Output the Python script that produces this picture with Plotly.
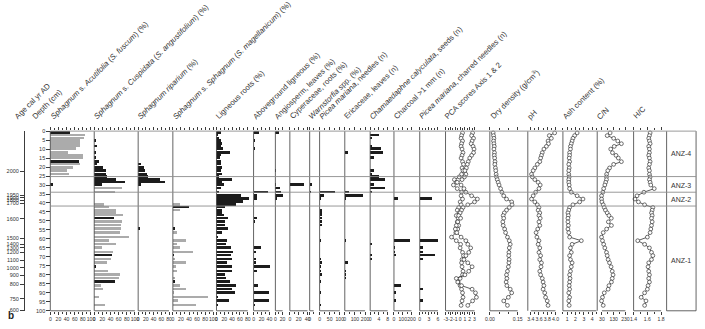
import plotly.graph_objects as go

W, H = 705, 329

# ---------------- data ----------------
DEPTHS = [1, 2.5, 4, 5.5, 7, 8.5, 10, 12, 13.5, 15,
          17, 18.5, 20.5, 22, 24, 25.5, 27, 28.5, 30, 32,
          34, 36, 37.8, 39.4, 41, 42.5, 44, 45.5, 47, 48.5,
          50.5, 52.5, 54.5, 56.5, 59, 61, 63, 65, 67.5, 69.3,
          71.5, 73.3, 75.5, 78, 80, 82, 84, 86, 88, 90,
          92.5, 94.5, 97]

ACUT_DARK = [50, 0, 0, 0, 0, 0, 0, 0, 0, 0,
             72, 0, 0, 0, 0, 0, 0, 0, 8, 0,
             0, 0, 0, 0, 0, 0, 0, 0, 0, 0,
             0, 0, 0, 0, 0, 0, 0, 0, 0, 0,
             0, 0, 0, 0, 0, 0, 0, 0, 0, 0,
             0, 0, 0]
ACUT_LIGHT = [0, 85, 83, 73, 73, 73, 64, 45, 80, 80,
              0, 73, 57, 42, 47, 0, 0, 0, 0, 0,
              0, 0, 0, 0, 0, 0, 0, 0, 0, 0,
              0, 0, 0, 0, 0, 0, 0, 0, 0, 0,
              0, 0, 0, 0, 0, 0, 0, 0, 0, 0,
              0, 0, 0]
CUSP_DARK = [0, 0, 0, 4, 0, 8, 0, 4, 0, 4,
             12, 8, 23, 29, 29, 33, 53, 77, 20, 0,
             0, 0, 0, 0, 0, 0, 0, 0, 0, 49,
             0, 0, 0, 0, 0, 0, 0, 0, 0, 45,
             0, 0, 6, 0, 0, 0, 51, 0, 0, 0,
             0, 0, 0]
CUSP_LIGHT = [0, 0, 0, 0, 0, 0, 0, 0, 0, 0,
              0, 0, 0, 0, 0, 0, 0, 0, 0, 69,
              51, 0, 0, 0, 24, 37, 54, 54, 71, 0,
              69, 66, 66, 65, 85, 36, 54, 20, 47, 0,
              41, 31, 0, 35, 65, 61, 0, 16, 22, 0,
              12, 0, 28]
RIPA_DARK = [0, 0, 0, 0, 0, 0, 0, 0, 0, 0,
             0, 8, 15, 19, 23, 27, 56, 70, 9, 0,
             0, 0, 0, 0, 0, 0, 0, 0, 0, 0,
             0, 0, 6, 0, 0, 0, 0, 0, 0, 0,
             0, 0, 0, 0, 0, 0, 0, 0, 0, 0,
             0, 0, 0]
SPHAG_DARK = [0, 0, 0, 0, 0, 0, 0, 0, 0, 0,
              0, 0, 0, 0, 0, 0, 0, 0, 0, 0,
              0, 0, 0, 0, 0, 39, 0, 0, 0, 0,
              0, 0, 3, 0, 0, 0, 0, 0, 0, 2,
              0, 0, 0, 0, 0, 0, 6, 0, 0, 0,
              0, 0, 0]
SPHAG_LIGHT = [0, 0, 0, 0, 0, 0, 0, 0, 0, 0,
               0, 0, 0, 0, 0, 0, 0, 0, 0, 0,
               0, 0, 0, 0, 18, 0, 18, 0, 0, 0,
               0, 0, 0, 10, 0, 31, 10, 17, 50, 0,
               3, 31, 8, 10, 0, 3, 0, 18, 33, 2,
               87, 12, 58]
LIG_ROOTS = [12, 5, 7, 12, 16, 12, 18, 37, 12, 9,
             12, 12, 15, 12, 15, 8, 40, 16, 21, 12,
             7, 65, 85, 70, 52, 24, 16, 16, 21, 31,
             24, 24, 31, 16, 5, 27, 25, 39, 44, 39,
             42, 27, 40, 40, 24, 25, 36, 51, 40, 49,
             5, 33, 3]
ABOVE_LIG = [13, 0, 0, 2, 0, 0, 2, 0, 0, 0,
             0, 0, 0, 0, 0, 0, 0, 0, 0, 0,
             36, 7, 7, 0, 0, 0, 0, 0, 0, 8,
             2, 0, 0, 0, 0, 0, 0, 18, 3, 0,
             5, 5, 40, 8, 0, 0, 0, 11, 0, 37,
             0, 37, 2]
ANGIO = [11, 0, 0, 0, 0, 0, 0, 0, 0, 0,
         0, 0, 0, 2, 0, 0, 0, 0, 2, 14,
         16, 23, 5, 0, 0, 0, 0, 0, 0, 0,
         0, 0, 0, 0, 0, 0, 0, 0, 0, 0,
         0, 0, 0, 0, 0, 0, 0, 0, 0, 0,
         0, 0, 0]
CYPER = [0, 0, 0, 0, 0, 0, 0, 0, 0, 0,
         0, 0, 0, 0, 0, 0, 0, 0, 32, 0,
         0, 0, 0, 0, 0, 0, 0, 0, 0, 0,
         0, 0, 0, 0, 0, 0, 0, 0, 0, 0,
         0, 0, 0, 0, 0, 0, 0, 0, 0, 0,
         0, 0, 0]
WARN = [0, 0, 0, 0, 0, 0, 0, 0, 0, 0,
        0, 0, 0, 0, 0, 0, 0, 0, 4, 0,
        2, 0, 0, 0, 0, 0, 0, 0, 0, 0,
        0, 0, 0, 0, 0, 0, 0, 0, 0, 0,
        0, 0, 0, 0, 0, 0, 0, 0, 0, 0,
        0, 0, 0]
PICEA_N = [0, 0, 0, 0, 0, 0, 0, 0, 0, 0,
           0, 0, 0, 0, 0, 0, 0, 0, 0, 0,
           75, 21, 3, 0, 0, 0, 10, 8, 10, 8,
           12, 12, 0, 0, 0, 3, 0, 0, 0, 0,
           4, 6, 4, 4, 5, 0, 3, 0, 0, 4,
           0, 0, 3]
ERIC = [0, 0, 0, 0, 0, 0, 0, 27, 0, 0,
        0, 0, 0, 0, 0, 0, 0, 0, 0, 0,
        40, 177, 5, 0, 0, 0, 0, 0, 0, 0,
        0, 0, 0, 0, 0, 3, 0, 0, 0, 0,
        0, 27, 0, 5, 5, 5, 0, 0, 0, 0,
        0, 0, 0]
CHAM = [0, 4, 1, 0, 0, 1, 5, 6, 0, 2,
        0, 0, 0, 2, 1, 4, 7, 0, 2, 7,
        1, 0, 0, 0, 0, 0, 0, 0, 0, 0,
        0, 0, 0, 0, 0, 0, 1, 0, 0, 1,
        1, 0, 0, 0, 0, 0, 0, 0, 0, 0,
        0, 0, 0]
CHARCOAL = [0, 0, 0, 0, 0, 0, 0, 0, 0, 0,
            0, 0, 0, 0, 0, 0, 0, 0, 0, 0,
            0, 0, 40, 0, 0, 0, 0, 0, 0, 0,
            0, 0, 0, 0, 0, 185, 0, 8, 8, 25,
            0, 0, 0, 0, 0, 0, 0, 85, 0, 25,
            0, 25, 0]
PICEA_CH = [0, 0, 0, 0, 0, 0, 0, 0, 0, 0,
            0, 0, 0, 0, 0, 0, 0, 0, 0, 0,
            0, 0, 4, 0, 0, 0, 0, 0, 0, 0,
            0, 0, 0, 0, 0, 6, 0, 1, 1, 5,
            1, 0, 0, 0, 0, 0, 0, 0, 1, 0,
            0, 1, 0]

PCA1 = [0.5, 0.3, 0.2, 0.5, 0.3, 0.2, 0.4, 0.6, 0.4, 0.2,
        0.5, 0.7, 0.4, 0.6, 0.3, -0.2, -1.2, -0.8, -1.4, -0.6,
        0.3, 0.2, 0.5, 0.0, 0.2, -0.3, -0.6, -0.2, -0.8, -0.4,
        -0.6, -0.3, -0.5, -0.9, -1.8, -0.8, 0.1, 0.0, 0.5, 0.7,
        0.4, 0.3, 0.4, 0.6, 0.5, 0.0, -0.4, 0.0, 0.3, 0.5,
        0.6, 0.4, 0.2]
PCA2 = [2.6, 2.4, 2.8, 2.5, 2.3, 2.7, 2.9, 2.8, 2.4, 2.0,
        1.7, 1.5, 1.3, 1.0, 1.2, 0.9, 0.4, -0.6, 0.2, 0.8,
        1.2, 2.4, 3.6, 3.0, 1.6, 0.6, 0.3, 0.0, -0.3, 0.1,
        -0.5, -0.8, -1.0, -0.7, 0.2, 1.2, 1.6, 2.2, 1.8, 1.2,
        0.8, 1.6, 2.5, 1.8, 1.0, -0.8, -0.5, 0.3, 2.5, 3.2,
        3.4, 2.6, 1.6]
DRY_DENSITY = [0.018, 0.02, 0.022, 0.02, 0.022, 0.024, 0.022, 0.025, 0.024, 0.026,
               0.028, 0.027, 0.03, 0.032, 0.034, 0.036, 0.04, 0.045, 0.05, 0.058,
               0.065, 0.075, 0.09, 0.118, 0.12, 0.105, 0.09, 0.078, 0.072, 0.075,
               0.07, 0.072, 0.08, 0.085, 0.095, 0.105, 0.11, 0.105, 0.103, 0.102,
               0.104, 0.103, 0.1, 0.095, 0.09, 0.092, 0.088, 0.092, 0.11, 0.118,
               0.1, 0.075, 0.095]
PH = [3.98, 3.85, 3.9, 3.82, 3.83, 3.78, 3.72, 3.68, 3.66, 3.64,
      3.62, 3.56, 3.5, 3.46, 3.42, 3.44, 3.5, 3.58, 3.63, 3.6,
      3.52, 3.46, 3.42, 3.5, 3.56, 3.6, 3.58, 3.62, 3.6, 3.63,
      3.6, 3.62, 3.57, 3.53, 3.55, 3.6, 3.58, 3.62, 3.6, 3.64,
      3.62, 3.66, 3.65, 3.62, 3.64, 3.68, 3.7, 3.72, 3.7, 3.74,
      3.76, 3.8, 3.82]
ASH = [2.2, 1.9, 1.7, 1.6, 1.5, 1.4, 1.4, 1.3, 1.3, 1.25,
       1.3, 1.2, 1.25, 1.2, 1.2, 1.25, 1.2, 1.2, 1.25, 1.3,
       1.5, 2.2, 2.9, 2.5, 1.7, 1.3, 1.2, 1.1, 1.15, 1.1,
       1.1, 1.15, 1.1, 1.2, 1.3, 2.7, 1.6, 1.4, 1.5, 1.3,
       1.4, 1.6, 1.5, 1.4, 1.3, 1.35, 1.3, 1.25, 1.3, 1.2,
       1.3, 1.2, 1.25]
CN = [100, 75, 130, 165, 196, 135, 105, 120, 150, 170,
      196, 130, 95, 80, 70, 69, 69, 62, 55, 45,
      38, 27, 27, 30, 41, 50, 60, 75, 90, 110,
      85, 111, 70, 41, 27, 35, 45, 55, 69, 75,
      83, 95, 108, 118, 125, 118, 111, 90, 83, 50,
      35, 27, 41]
HC = [1.64, 1.63, 1.62, 1.63, 1.64, 1.62, 1.63, 1.63, 1.62, 1.63,
      1.64, 1.63, 1.62, 1.63, 1.63, 1.64, 1.63, 1.64, 1.65, 1.7,
      1.55, 1.45, 1.42, 1.47, 1.56, 1.68, 1.67, 1.66, 1.67, 1.66,
      1.67, 1.66, 1.65, 1.64, 1.6, 1.46, 1.56, 1.63, 1.66, 1.68,
      1.66, 1.62, 1.61, 1.62, 1.63, 1.62, 1.63, 1.61, 1.6, 1.56,
      1.51, 1.58, 1.56]

AGE_LABELS = ["2000", "1950", "1900", "1800", "1700", "1600", "1500", "1400",
              "1300", "1200", "1100", "1000", "900", "800", "750", "600"]
AGE_DEPTHS = [22.2, 35.8, 37.2, 38.6, 40.3, 48.7, 59.6, 63.1,
              64.9, 67.3, 71.9, 76.1, 80.1, 85.2, 93.3, 99.8]

ZONE_NAMES = ["ANZ-4", "ANZ-3", "ANZ-2", "ANZ-1"]
ZONE_LABEL_DEPTHS = [12.5, 30.2, 38.0, 72.0]
ZONE_BOUNDS = [25.3, 34.0, 41.7]

# ---------------- layout helpers ----------------
FONT = "Liberation Sans, Arial, sans-serif"
DARK = "#1c1c1c"
LIGHT = "#ababab"
LINE = "#3c3c3c"
Y_TOP, Y_BOT = 130.5, 313.5
EDGES = [45.7, 90, 134.3, 169.3, 213.3, 250.7, 272.7, 287.3, 307.3, 317.3,
         342.7, 368.3, 392.3, 418.3, 444.3, 489, 527.3, 562.7, 597.3, 634, 667.3]
BOX_RIGHT = 697
TITLE_SIZE = 7.7
TICK_SIZE = 5.1


def px(x):
    return x / W


def py(y):
    return 1 - y / H


I = "<i>"
E = "</i>"
panels = [
    dict(title=f"{I}Sphagnum{E} s. {I}Acutifolia{E} ({I}S. fuscum{E}) (%)", bars=[(ACUT_DARK, DARK), (ACUT_LIGHT, LIGHT)],
         rng=[0, 108], major=[0, 20, 40, 60, 80, 100], minor=[10, 30, 50, 70, 90]),
    dict(title=f"{I}Sphagnum{E} s. {I}Cuspidata{E} ({I}S. angustifolium{E}) (%)", bars=[(CUSP_DARK, DARK), (CUSP_LIGHT, LIGHT)],
         rng=[0, 108], major=[0, 20, 40, 60, 80, 100], minor=[10, 30, 50, 70, 90]),
    dict(title=f"{I}Sphagnum riparium{E} (%)", bars=[(RIPA_DARK, DARK)],
         rng=[0, 90], major=[0, 20, 40, 60, 80], minor=[10, 30, 50, 70]),
    dict(title=f"{I}Sphagnum{E} s. {I}Sphagnum{E} ({I}S. magellanicum{E}) (%)", bars=[(SPHAG_DARK, DARK), (SPHAG_LIGHT, LIGHT)],
         rng=[0, 108], major=[0, 20, 40, 60, 80, 100], minor=[10, 30, 50, 70, 90]),
    dict(title="Ligneous roots (%)", bars=[(LIG_ROOTS, DARK)],
         rng=[0, 95], major=[0, 20, 40, 60, 80], minor=[10, 30, 50, 70]),
    dict(title="Aboveground ligneous (%)", bars=[(ABOVE_LIG, DARK)],
         rng=[0, 55], major=[0, 20, 40], minor=[10, 30]),
    dict(title="Angiosperm, leaves (%)", bars=[(ANGIO, DARK)],
         rng=[0, 40], major=[0, 20], minor=[10]),
    dict(title="Cyperaceae, roots (%)", bars=[(CYPER, DARK)],
         rng=[0, 45], major=[0, 20, 40], minor=[10, 30]),
    dict(title=f"{I}Warnstorfia{E} spp. (%)", bars=[(WARN, DARK)],
         rng=[0, 25], major=[0], minor=[10]),
    dict(title=f"{I}Picea mariana{E}, needles (n)", bars=[(PICEA_N, DARK)],
         rng=[0, 125], major=[0, 50, 100], minor=[25, 75]),
    dict(title="Ericaceae, leaves (n)", bars=[(ERIC, DARK)],
         rng=[0, 250], major=[0, 100, 200], minor=[50, 150]),
    dict(title=f"{I}Chamaedaphne calyculata{E}, seeds (n)", bars=[(CHAM, DARK)],
         rng=[0, 10.9], major=[0, 4, 8], minor=[2, 6]),
    dict(title="Charcoal >1 mm (n)", bars=[(CHARCOAL, DARK)],
         rng=[0, 294], major=[0, 100, 200], minor=[50, 150]),
    dict(title=f"{I}Picea mariana{E}, charred needles (n)", bars=[(PICEA_CH, DARK)],
         rng=[0, 8.5], major=[0, 3, 6], minor=[1, 2, 4, 5]),
    dict(title="PCA scores Axis 1 & 2", curves=[PCA1, PCA2],
         rng=[-3.05, 6.2], major=[-3, -2, -1, 0, 1, 2, 3],
         minor=[-2.5, -1.5, -0.5, 0.5, 1.5, 2.5]),
    dict(title="Dry density (g/cm<sup>3</sup>)", curves=[DRY_DENSITY],
         rng=[0, 0.205], major=[0, 0.15], labels=["0.00", "0.15"], minor=[0.05, 0.10]),
    dict(title="pH", curves=[PH],
         rng=[3.33, 4.18], major=[3.4, 3.6, 3.8, 4.0], labels=["3.4", "3.6", "3.8", "4.0"],
         minor=[3.5, 3.7, 3.9]),
    dict(title="Ash content (%)", curves=[ASH],
         rng=[0.5, 4.6], major=[1, 2, 3, 4], minor=[0.5, 1.5, 2.5, 3.5, 4.5]),
    dict(title="C/N", curves=[CN],
         rng=[-10, 300], major=[30, 130, 230], minor=[80, 180]),
    dict(title="H/C", curves=[HC],
         rng=[1.4, 1.88], major=[1.4, 1.6, 1.8], labels=["1.4", "1.6", "1.8"], minor=[1.5, 1.7]),
]

fig = go.Figure()
layout = dict(
    width=W, height=H, autosize=False,
    margin=dict(l=0, r=0, t=0, b=0),
    paper_bgcolor="white", plot_bgcolor="rgba(0,0,0,0)",
    font=dict(family=FONT, size=6, color="#333"),
    showlegend=False, barmode="overlay", bargap=0,
)
shapes = []
annotations = []
ydom = [py(Y_BOT), py(Y_TOP)]

for k, p in enumerate(panels):
    n = k + 1
    xa = "x" if n == 1 else f"x{n}"
    key = "xaxis" if n == 1 else f"xaxis{n}"
    for vals, col in p.get("bars", []):
        fig.add_trace(go.Bar(x=vals, y=DEPTHS, orientation="h", width=1.1,
                             marker=dict(color=col, line=dict(width=0)),
                             xaxis=xa, yaxis="y", hoverinfo="skip"))
    for vals in p.get("curves", []):
        fig.add_trace(go.Scatter(x=vals, y=DEPTHS, mode="lines+markers",
                                 line=dict(color="#333", width=0.8),
                                 marker=dict(symbol="circle", size=3.8, color="white",
                                             line=dict(color="#333", width=0.7)),
                                 cliponaxis=False, xaxis=xa, yaxis="y", hoverinfo="skip"))
    labels = p.get("labels", [str(v) for v in p["major"]])
    layout[key] = dict(
        domain=[px(EDGES[k]), px(EDGES[k + 1])], anchor="y", range=p["rng"],
        autorange=False, showgrid=False, zeroline=False, showline=False,
        tickmode="array", tickvals=p["major"], ticktext=labels, tickangle=0,
        ticks="outside", ticklen=3.5, tickwidth=0.8, tickcolor=LINE, mirror="ticks",
        tickfont=dict(size=TICK_SIZE, color="#333", family=FONT),
        minor=dict(tickmode="array", tickvals=p["minor"], ticks="outside",
                   ticklen=2, tickwidth=0.8, tickcolor=LINE),
    )
    ticks_all = sorted(p["major"] + p["minor"])
    shapes.append(dict(type="line", xref=xa, yref="paper", x0=ticks_all[0], x1=ticks_all[-1],
                       y0=ydom[0], y1=ydom[0], line=dict(color=LINE, width=0.8)))
    annotations.append(dict(text=p["title"], xref="paper", yref="paper",
                            x=px(EDGES[k] - 5), y=py(123), xanchor="left", yanchor="bottom",
                            textangle=-45, showarrow=False,
                            font=dict(size=TITLE_SIZE, color="#333", family=FONT)))

for t, xs in [("Age cal yr AD", 10), ("Depth (cm)", 28)]:
    annotations.append(dict(text=t, xref="paper", yref="paper", x=px(xs - 5.5), y=py(123),
                            xanchor="left", yanchor="bottom", textangle=-45, showarrow=False,
                            font=dict(size=TITLE_SIZE, color="#333", family=FONT)))

layout["yaxis"] = dict(domain=ydom, range=[100, 0], autorange=False, anchor="free",
                       position=px(EDGES[0]), showgrid=False, zeroline=False, showline=False,
                       tickmode="array", tickvals=list(range(0, 101, 5)),
                       ticks="outside", ticklen=4, tickwidth=0.8, tickcolor=LINE,
                       tickfont=dict(size=5.5, color="#333", family=FONT))
layout["yaxis2"] = dict(domain=ydom, range=[100, 0], autorange=False, anchor="free",
                        overlaying="y", position=px(19), side="left",
                        showgrid=False, zeroline=False, showline=True, linecolor=LINE, linewidth=0.8,
                        tickmode="array", tickvals=AGE_DEPTHS, ticktext=AGE_LABELS,
                        ticks="outside", ticklen=4, tickwidth=0.8, tickcolor=LINE,
                        tickfont=dict(size=5.5, color="#333", family=FONT))
fig.add_trace(go.Scatter(x=[None], y=[None], xaxis="x", yaxis="y2", showlegend=False))

# panel borders
for e in EDGES:
    shapes.append(dict(type="line", xref="paper", yref="paper", x0=px(e), x1=px(e),
                       y0=ydom[0], y1=ydom[1], line=dict(color=LINE, width=0.8)))
# zone box
shapes.append(dict(type="line", xref="paper", yref="paper", x0=px(BOX_RIGHT), x1=px(BOX_RIGHT),
                   y0=ydom[0], y1=ydom[1], line=dict(color=LINE, width=0.8)))
shapes.append(dict(type="line", xref="paper", yref="paper", x0=px(EDGES[-1]), x1=px(BOX_RIGHT),
                   y0=ydom[0], y1=ydom[0], line=dict(color=LINE, width=0.8)))
# top line and zone boundaries
shapes.append(dict(type="line", xref="paper", yref="paper", x0=px(EDGES[0]), x1=px(BOX_RIGHT),
                   y0=ydom[1], y1=ydom[1], line=dict(color="#9a9a9a", width=1)))
for zb in ZONE_BOUNDS:
    shapes.append(dict(type="line", xref="paper", yref="y", x0=px(EDGES[0]), x1=px(BOX_RIGHT),
                       y0=zb, y1=zb, line=dict(color="#8c8c8c", width=0.9)))
for name, d in zip(ZONE_NAMES, ZONE_LABEL_DEPTHS):
    annotations.append(dict(text=name, xref="paper", yref="y", x=px((EDGES[-1] + BOX_RIGHT) / 2),
                            y=d, xanchor="center", yanchor="middle", showarrow=False,
                            font=dict(size=7, color="#333", family=FONT)))
annotations.append(dict(text="<b>b</b>", xref="paper", yref="paper", x=px(1), y=py(318),
                        xanchor="left", yanchor="middle", showarrow=False,
                        font=dict(size=10, color="#222", family=FONT)))

layout["shapes"] = shapes
layout["annotations"] = annotations
fig.update_layout(**layout)
fig.write_html("out.html")
